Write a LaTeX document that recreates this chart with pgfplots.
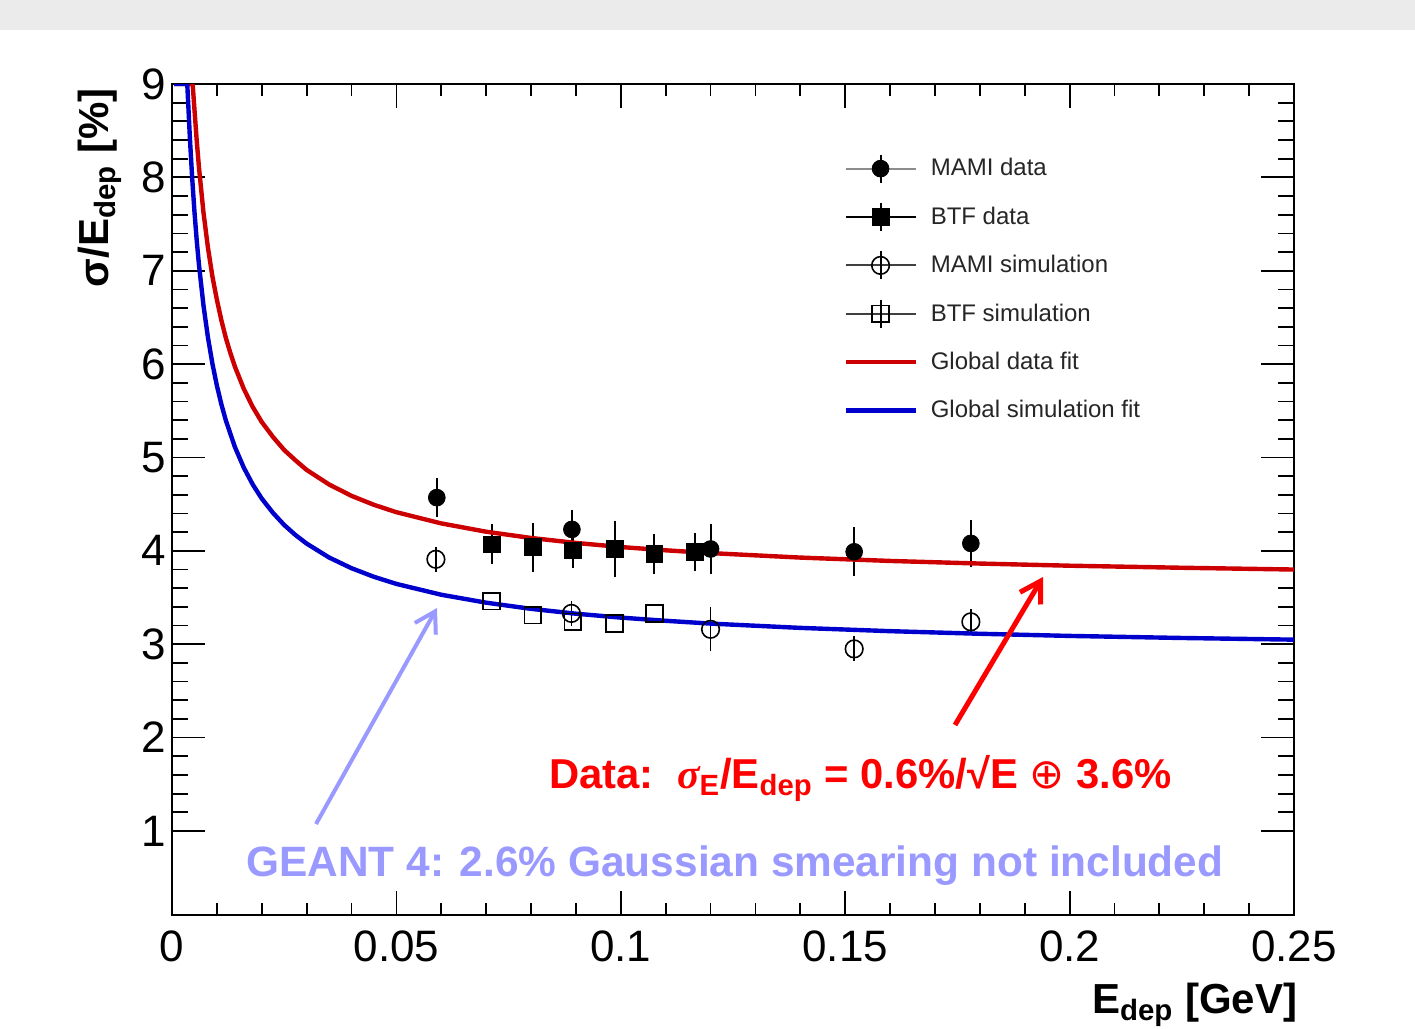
\documentclass[border=0pt]{standalone}
\usepackage{pgfplots}
\pgfplotsset{compat=1.18}
\usepackage{fontspec}
\setmainfont{Liberation Sans}
\newfontfamily\dejavu{DejaVu Sans}
\newfontfamily\serif{Liberation Serif}
\usetikzlibrary{arrows.meta}

\definecolor{fitred}{RGB}{204,0,0}
\definecolor{fitblue}{RGB}{0,0,204}
\definecolor{annblue}{RGB}{153,153,255}
\definecolor{annred}{RGB}{255,0,0}
\definecolor{band}{RGB}{235,235,235}

\pgfplotsset{
  leg marker/.style={legend image code/.code={
      \path[draw=none,fill=none] (0pt,-12.1pt) rectangle (35pt,12.1pt);
      \draw[line width=1pt,#1] (0pt,0pt) -- (35pt,0pt);
      \draw[line width=1pt,black] (17.5pt,-7pt) -- (17.5pt,7pt);
      \draw[##1] plot coordinates {(17.5pt,0pt)};
  }},
  leg line/.style={legend image code/.code={
      \path[draw=none,fill=none] (0pt,-12.1pt) rectangle (35pt,12.1pt);
      \draw[##1] (0pt,0pt) -- (35pt,0pt);
  }},
}

\begin{document}
\begin{tikzpicture}[x=0.5pt,y=0.5pt]
\useasboundingbox (0,0) rectangle (1415,1029);
\fill[white] (0,0) rectangle (1415,1029);
\fill[band] (0,999) rectangle (1415,1029);

\begin{axis}[
  at={(86pt,57pt)}, anchor=south west,
  scale only axis, width=561pt, height=415.5pt,
  xmin=0, xmax=0.25, ymin=0.1, ymax=9,
  xtick={0,0.05,0.1,0.15,0.2,0.25}, ytick={1,2,...,9},
  minor x tick num=4, minor y tick num=4,
  scaled x ticks=false,
  xticklabel style={/pgf/number format/fixed, /pgf/number format/precision=2, yshift=-7.5pt},
  yticklabel style={xshift=-3pt},
  tick pos=both, tick align=inside,
  major tick length=14pt, minor tick length=7pt,
  xtick style={/pgfplots/major tick length=12pt, /pgfplots/minor tick length=6pt},
  ytick style={/pgfplots/major tick length=16.5pt, /pgfplots/minor tick length=8pt},
  tick style={line width=0.9pt, black},
  axis line style={line width=1.4pt},
  ticklabel style={font=\fontsize{22}{24}\selectfont, inner sep=0pt},
  /pgf/number format/assume math mode=true,
  label style={font=\fontsize{21}{24}\selectfont\bfseries},
  xlabel={E\textsubscript{dep} [GeV]},
  ylabel={σ/E\textsubscript{dep} [\%]},
  xlabel style={at={(axis description cs:1.009,-0.118)}, anchor=base east},
  ylabel style={at={(axis description cs:-0.057,1.003)}, anchor=base east},
  legend cell align=left,
  legend style={at={(axis description cs:0.598,0.9278)}, anchor=north west,
    draw=none, fill=none, inner sep=0pt, row sep=0pt,
    font=\fontsize{12}{14}\selectfont, text=black!85,
    nodes={inner sep=0pt},
    /tikz/every odd column/.append style={column sep=6.5pt}},
]

% MAMI data
\addplot[only marks, mark=*, mark size=4.2pt, black, leg marker={black!45},
  error bars/.cd, y dir=both, y explicit, error mark=-,
  error bar style={line width=1pt}, error mark options={line width=1pt, mark size=2.5pt}]
coordinates {
  (0.0590,4.57) +- (0,0.155)
  (0.0891,4.23) +- (0,0.15)
  (0.1200,4.02) +- (0,0.21)
  (0.1520,3.99) +- (0,0.21)
  (0.1780,4.08) +- (0,0.20)
};
\addlegendentry{MAMI data}

% BTF data
\addplot[only marks, mark=square*, mark size=4.2pt, black, leg marker={black},
  error bars/.cd, y dir=both, y explicit, error mark=-,
  error bar style={line width=1pt}, error mark options={line width=1pt, mark size=2.5pt}]
coordinates {
  (0.0712,4.07) +- (0,0.16)
  (0.0804,4.04) +- (0,0.21)
  (0.0893,4.005) +- (0,0.13)
  (0.0986,4.02) +- (0,0.25)
  (0.1075,3.97) +- (0,0.16)
  (0.1165,3.99) +- (0,0.15)
};
\addlegendentry{BTF data}

% MAMI simulation
\addplot[only marks, mark=o, mark size=4.4pt, black, mark options={line width=0.8pt}, leg marker={black!75},
  error bars/.cd, y dir=both, y explicit, error mark=-,
  error bar style={line width=0.9pt}, error mark options={line width=0.9pt, mark size=2.5pt}]
coordinates {
  (0.0588,3.91) +- (0,0.08)
  (0.0890,3.33) +- (0,0.08)
  (0.1200,3.16) +- (0,0.18)
  (0.1520,2.95) +- (0,0.08)
  (0.1780,3.24) +- (0,0.08)
};
\addlegendentry{MAMI simulation}

% BTF simulation
\addplot[only marks, mark=square, mark size=4.2pt, black, mark options={line width=0.8pt}, leg marker={black!75}]
coordinates {
  (0.0712,3.46)
  (0.0804,3.31)
  (0.0893,3.24)
  (0.0986,3.22)
  (0.1075,3.33)
};
\addlegendentry{BTF simulation}

% global data fit
\addplot[fitred, line width=2.2pt, line join=round, leg line]
coordinates {
  (0.0005,9.00) (0.0046,9.00) (0.0050,8.73) (0.0055,8.40) (0.0060,8.11)
  (0.0070,7.63) (0.0080,7.25) (0.0090,6.94) (0.0100,6.69) (0.0110,6.47)
  (0.0120,6.28) (0.0130,6.12) (0.0140,5.975) (0.0160,5.735) (0.0180,5.54)
  (0.0200,5.38) (0.0225,5.22) (0.0250,5.08) (0.0275,4.97) (0.0300,4.867)
  (0.0350,4.711) (0.0400,4.589) (0.0450,4.493) (0.0500,4.414) (0.0600,4.294)
  (0.0700,4.205) (0.0800,4.138) (0.0900,4.085) (0.1000,4.041) (0.1100,4.006)
  (0.1200,3.976) (0.1400,3.928) (0.1600,3.892) (0.1800,3.864) (0.2000,3.841)
  (0.2250,3.819) (0.2500,3.800)
};
\addlegendentry{Global data fit}

% global simulation fit
\addplot[fitblue, line width=2.2pt, line join=round, leg line]
coordinates {
  (0.0005,9.00) (0.0034,9.00) (0.0040,8.41) (0.0045,7.99) (0.0050,7.635)
  (0.0055,7.33) (0.0060,7.068) (0.0070,6.634) (0.0080,6.288) (0.0090,6.006)
  (0.0100,5.770) (0.0110,5.57) (0.0120,5.397) (0.0140,5.114) (0.0160,4.891)
  (0.0180,4.710) (0.0200,4.560) (0.0225,4.407) (0.0250,4.277) (0.0275,4.170)
  (0.0300,4.078) (0.0350,3.929) (0.0400,3.814) (0.0450,3.722) (0.0500,3.646)
  (0.0600,3.530) (0.0700,3.445) (0.0800,3.379) (0.0900,3.327) (0.1000,3.285)
  (0.1100,3.251) (0.1200,3.221) (0.1400,3.175) (0.1600,3.140) (0.1800,3.112)
  (0.2000,3.089) (0.2250,3.067) (0.2500,3.049)
};
\addlegendentry{Global simulation fit}
\end{axis}

% annotations
\draw[annred, line width=2.5pt, -{Straight Barb[length=10pt, width=12pt]}] (955,304) -- (1043,452);
\draw[annblue, line width=2pt, -{Straight Barb[length=10pt, width=12pt]}] (316,205) -- (437,421);

\node[anchor=base west, inner sep=0pt, text=annred, font=\fontsize{20.9}{24}\selectfont\bfseries]
  at (549,240) {Data:\ \ {\serif\itshape σ}\textsubscript{E}/E\textsubscript{dep} = 0.6\%/√E {\dejavu\mdseries ⊕} 3.6\%};
\node[anchor=base west, inner sep=0pt, text=annblue, font=\fontsize{21.2}{24}\selectfont\bfseries]
  at (246,152) {GEANT 4: 2.6\% Gaussian smearing not included};
\end{tikzpicture}
\end{document}
